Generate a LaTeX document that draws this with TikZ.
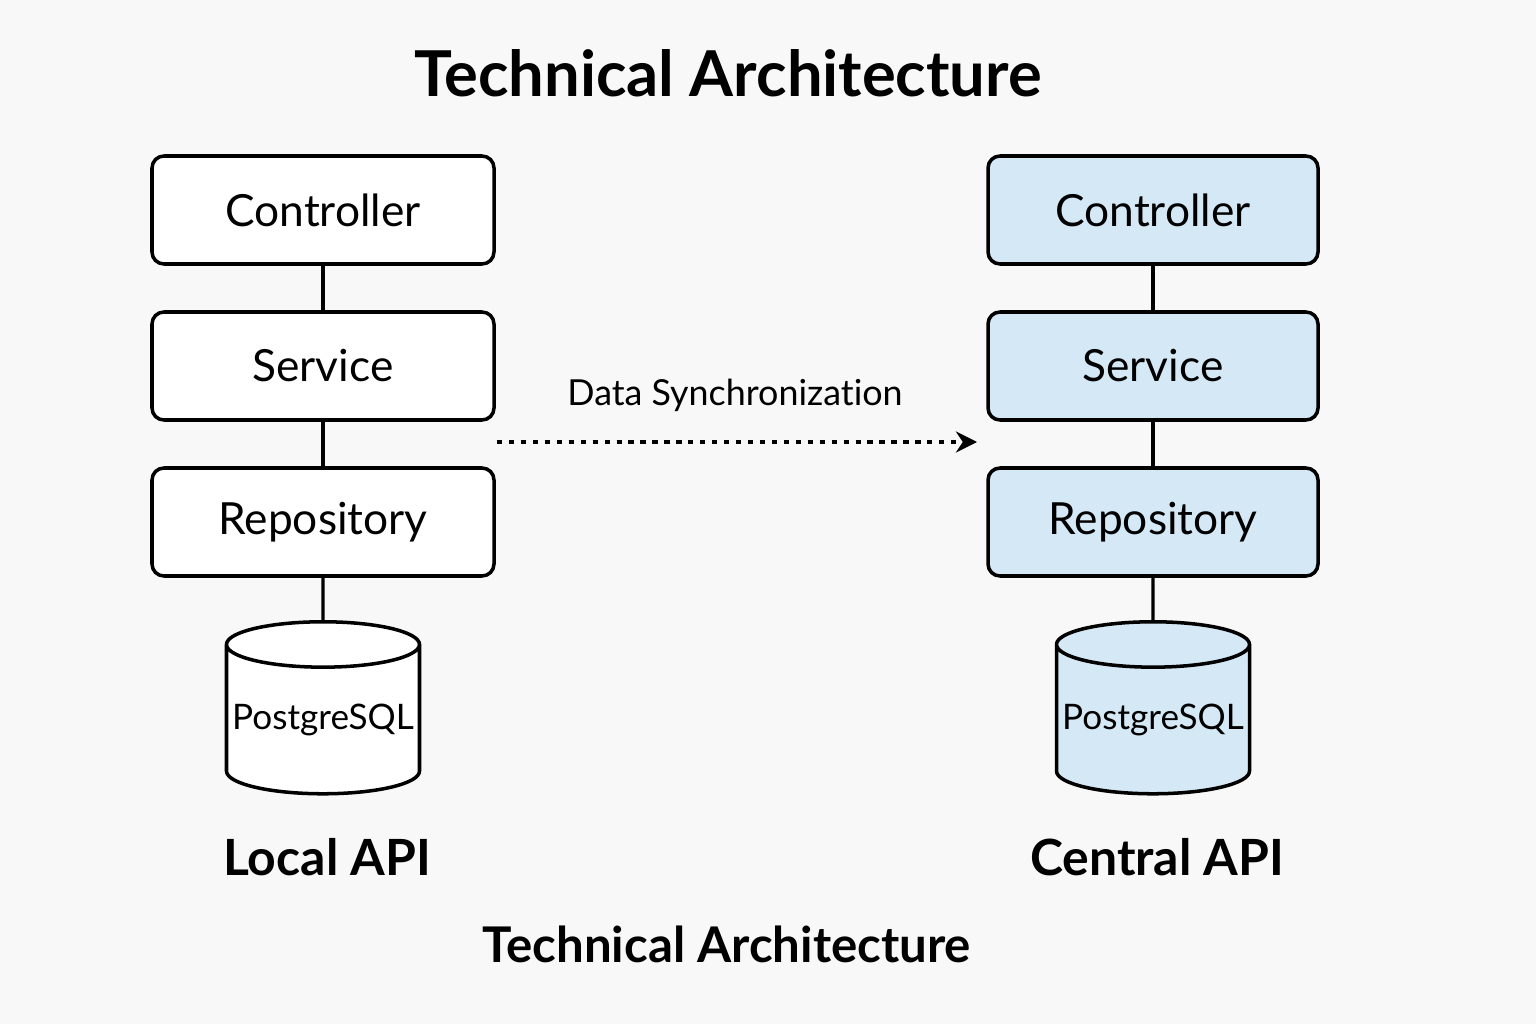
\documentclass[tikz,border=0pt]{standalone}
\usepackage{fontspec}
\setmainfont{Lato}[Ligatures={TeX,NoCommon}]
\usetikzlibrary{shapes.geometric,arrows.meta}
\definecolor{pagebg}{HTML}{F8F8F8}
\definecolor{layerblue}{HTML}{D4E9F5}

\begin{document}
\begin{tikzpicture}[
      layer/.style={draw, line width=1pt, rounded corners=0.12cm, minimum height=1.08cm, font=\fontsize{12.6}{15}\selectfont},
      db/.style={draw, line width=1pt, cylinder, shape border rotate=90, aspect=0.25, minimum width=1.93cm, minimum height=1.72cm, inner sep=0pt, font=\fontsize{10}{12}\selectfont},
      link/.style={line width=0.9pt}]
      \fill[pagebg] (0,0) rectangle (15.36,10.24);
      \node[font=\bfseries\fontsize{18}{22}\selectfont] (title) at (7.28,9.51) {Technical Architecture};
      \node[layer, fill=white, minimum width=3.42cm] (lctrl) at (3.23,8.14) {Controller};
      \node[layer, fill=white, minimum width=3.42cm] (lserv) at (3.23,6.58) {Service};
      \node[layer, fill=white, minimum width=3.42cm] (lrepo) at (3.23,5.02) {Repository};
      \node[db, fill=white] (ldb) at (3.23,3.04) {PostgreSQL};
      \node[layer, fill=layerblue, minimum width=3.30cm] (cctrl) at (11.53,8.14) {Controller};
      \node[layer, fill=layerblue, minimum width=3.30cm] (cserv) at (11.53,6.58) {Service};
      \node[layer, fill=layerblue, minimum width=3.30cm] (crepo) at (11.53,5.02) {Repository};
      \node[db, fill=layerblue] (cdb) at (11.53,3.04) {PostgreSQL};
      \draw[link] (lctrl) -- (lserv);
      \draw[link] (lserv) -- (lrepo);
      \draw[link] (lrepo) -- (ldb);
      \draw[link] (cctrl) -- (cserv);
      \draw[link] (cserv) -- (crepo);
      \draw[link] (crepo) -- (cdb);
      \coordinate (syncstart) at (4.97,5.82);
      \coordinate (syncend) at (9.77,5.82);
      \draw[line width=0.9pt, dash pattern=on 1.5pt off 1.9pt, -{Stealth[length=6pt, width=6pt]}] (syncstart) -- (syncend);
      \node[font=\fontsize{10.2}{12}\selectfont] (synclabel) at (7.35,6.29) {Data Synchronization};
      \node[font=\bfseries\fontsize{14.2}{17}\selectfont] (localapi) at (3.27,1.67) {Local API};
      \node[font=\bfseries\fontsize{14.2}{17}\selectfont] (centralapi) at (11.57,1.67) {Central API};
      \node[font=\bfseries\fontsize{14}{17}\selectfont] (caption) at (7.27,0.80) {Technical Architecture};
    \end{tikzpicture}
\end{document}
